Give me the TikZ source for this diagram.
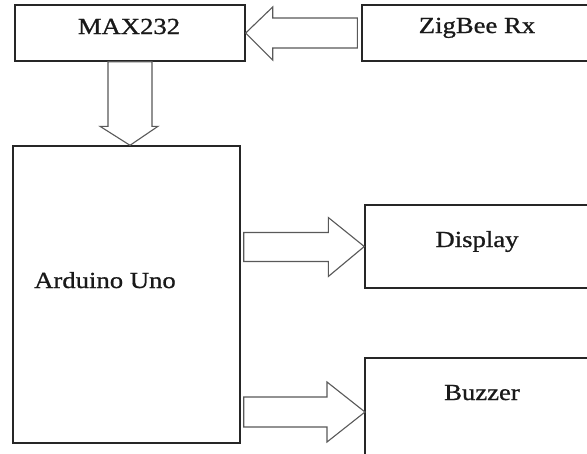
\documentclass[tikz,border=0pt]{standalone}
\usepackage{fontspec}
\setmainfont{Liberation Serif}[FakeStretch=1.16,FakeBold=0.9]
\usetikzlibrary{calc}
\tikzset{
  blk/.style={draw=black!85, line width=1.4pt, rectangle, inner sep=0pt, fill=none},
  lbl/.style={anchor=base, inner sep=0pt, font=\fontsize{23}{26}\selectfont, text=black!90},
  barrow/.style={draw=black!65, line width=1.1pt, line join=miter, fill=white}
}
\begin{document}
\begin{tikzpicture}[x=1pt,y=-1pt]
\useasboundingbox (0,0) rectangle (587,453);
\clip (0,0) rectangle (587,453);
\fill[white] (0,0) rectangle (587,453);
% boxes
\node[blk, minimum width=230pt, minimum height=56pt] (max) at (130,33) {};
\node[blk, minimum width=238pt, minimum height=56pt] (zig) at (481,33) {};
\node[blk, minimum width=227pt, minimum height=297pt] (ard) at (126.5,294.5) {};
\node[blk, minimum width=235pt, minimum height=83pt] (disp) at (482.5,246.5) {};
\node[blk, minimum width=235pt, minimum height=122pt] (buz) at (482.5,419) {};
% labels
\node[lbl] (tmax) at (129,34) {MAX232};
\node[lbl] (tzig) at (477,33) {ZigBee Rx};
\node[lbl] (tard) at (105,288) {Arduino Uno};
\node[lbl] (tdisp) at (477,247) {Display};
\node[lbl] (tbuz) at (482,400) {Buzzer};
% block arrow ZigBee -> MAX232
\draw[barrow] (max.east) -- ($(max.east)+(27,-26)$) -- ($(max.east)+(27,-15)$)
  -- ($(zig.west)+(-4,-15)$) -- ($(zig.west)+(-4,15)$) -- ($(max.east)+(27,15)$)
  -- ($(max.east)+(27,27)$) -- cycle;
% block arrow MAX232 -> Arduino
\coordinate (dtip) at (max.south |- ard.north);
\draw[barrow] (dtip) -- ($(dtip)+(-30,-19)$) -- ($(dtip)+(-22,-19)$)
  -- ($(max.south)+(-22,0)$) -- ($(max.south)+(22,0)$) -- ($(dtip)+(22,-19)$)
  -- ($(dtip)+(28,-19)$) -- cycle;
% block arrow Arduino -> Display
\coordinate (ptip) at (disp.west);
\coordinate (pst) at (ard.east |- disp.west);
\draw[barrow] (ptip) -- ($(ptip)+(-36,-29)$) -- ($(ptip)+(-36,-14)$)
  -- ($(pst)+(3,-14)$) -- ($(pst)+(3,15)$) -- ($(ptip)+(-36,15)$)
  -- ($(ptip)+(-36,30)$) -- cycle;
% block arrow Arduino -> Buzzer
\coordinate (btip) at (365,412);
\coordinate (bst) at (ard.east |- btip);
\draw[barrow] (btip) -- ($(btip)+(-38,-30)$) -- ($(btip)+(-38,-15)$)
  -- ($(bst)+(3,-15)$) -- ($(bst)+(3,15)$) -- ($(btip)+(-38,15)$)
  -- ($(btip)+(-38,30)$) -- cycle;
\end{tikzpicture}
\end{document}
